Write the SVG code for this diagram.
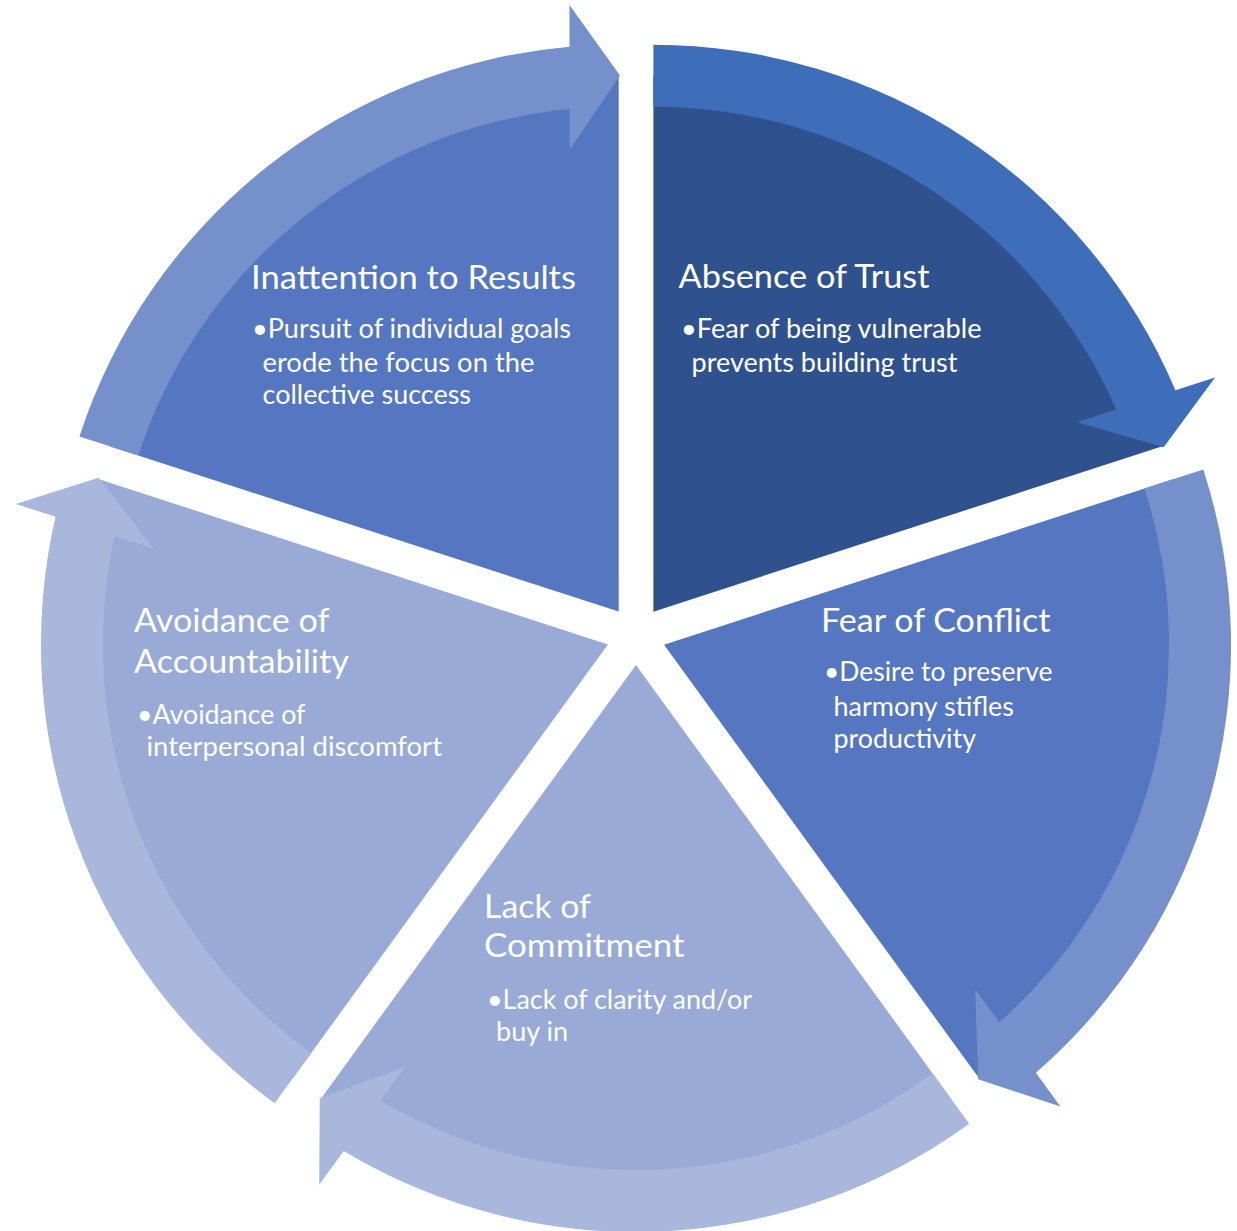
<svg xmlns="http://www.w3.org/2000/svg" width="1237" height="1231" viewBox="0 0 1237 1231">
<defs>
<path id="wedge" d="M618.7 611.6 L108.93 445.97 A536 536 0 0 1 618.7 75.6 Z"/>
<path id="arrow" d="M79.45 436.39 A567 567 0 0 1 569.5 46.74 L569.5 5 L620 75.5 L569.5 150 L569.5 109 A505 505 0 0 0 138.41 455.55 Z"/>
</defs>
<style>
.t{font-family:Lato,"Open Sans","Liberation Sans",sans-serif;fill:#ffffff}
.h{font-size:33px}
.b{font-size:26px}
.dark{fill:#2F528F}
.mid{fill:#5576C0}
.light{fill:#98AAD5}
.adark{fill:#3E6DBA}
.amid{fill:#7590CB}
.alight{fill:#A9B7DC}
</style>
<rect width="1237" height="1231" fill="#ffffff"/>
<g id="node-inattention-to-results">
<use href="#wedge" class="mid"/>
<text class="t h" x="251" y="288.5" textLength="325" lengthAdjust="spacingAndGlyphs">Inattention to Results</text>
<text class="t b" x="252" y="337.5" textLength="319" lengthAdjust="spacingAndGlyphs">•Pursuit of individual goals</text>
<text class="t b" x="262.5" y="371.5" textLength="272" lengthAdjust="spacingAndGlyphs">erode the focus on the</text>
<text class="t b" x="262.5" y="403.5" textLength="208.5" lengthAdjust="spacingAndGlyphs">collective success</text>
</g>
<g id="node-absence-of-trust">
<use href="#wedge" class="dark" transform="rotate(72 636 635.5)"/>
<text class="t h" x="678.5" y="288" textLength="251" lengthAdjust="spacingAndGlyphs">Absence of Trust</text>
<text class="t b" x="681" y="338" textLength="300.5" lengthAdjust="spacingAndGlyphs">•Fear of being vulnerable</text>
<text class="t b" x="691.5" y="371.5" textLength="266" lengthAdjust="spacingAndGlyphs">prevents building trust</text>
</g>
<g id="node-fear-of-conflict">
<use href="#wedge" class="mid" transform="rotate(144 636 635.5)"/>
<text class="t h" x="821" y="631.5" textLength="229.5" lengthAdjust="spacingAndGlyphs">Fear of Conflict</text>
<text class="t b" x="824" y="681" textLength="228.5" lengthAdjust="spacingAndGlyphs">•Desire to preserve</text>
<text class="t b" x="833.5" y="715.5" textLength="180.5" lengthAdjust="spacingAndGlyphs">harmony stifles</text>
<text class="t b" x="833.5" y="748" textLength="142.5" lengthAdjust="spacingAndGlyphs">productivity</text>
</g>
<g id="node-lack-of-commitment">
<use href="#wedge" class="light" transform="rotate(216 636 635.5)"/>
<text class="t h" x="484" y="917.5" textLength="107" lengthAdjust="spacingAndGlyphs">Lack of</text>
<text class="t h" x="484" y="957" textLength="200.5" lengthAdjust="spacingAndGlyphs">Commitment</text>
<text class="t b" x="487" y="1008.5" textLength="265" lengthAdjust="spacingAndGlyphs">•Lack of clarity and/or</text>
<text class="t b" x="496" y="1040.5" textLength="72" lengthAdjust="spacingAndGlyphs">buy in</text>
</g>
<g id="node-avoidance-of-accountability">
<use href="#wedge" class="light" transform="rotate(288 636 635.5)"/>
<text class="t h" x="134" y="631.5" textLength="195.5" lengthAdjust="spacingAndGlyphs">Avoidance of</text>
<text class="t h" x="134" y="673" textLength="215" lengthAdjust="spacingAndGlyphs">Accountability</text>
<text class="t b" x="137" y="723.5" textLength="168.5" lengthAdjust="spacingAndGlyphs">•Avoidance of</text>
<text class="t b" x="146.5" y="755.5" textLength="295.5" lengthAdjust="spacingAndGlyphs">interpersonal discomfort</text>
</g>
<g id="connectors">
<use href="#arrow" class="amid"/>
<use href="#arrow" class="adark" transform="rotate(72 636 635.5)"/>
<use href="#arrow" class="amid" transform="rotate(144 636 635.5)"/>
<use href="#arrow" class="alight" transform="rotate(216 636 635.5)"/>
<use href="#arrow" class="alight" transform="rotate(288 636 635.5)"/>
</g>
</svg>
